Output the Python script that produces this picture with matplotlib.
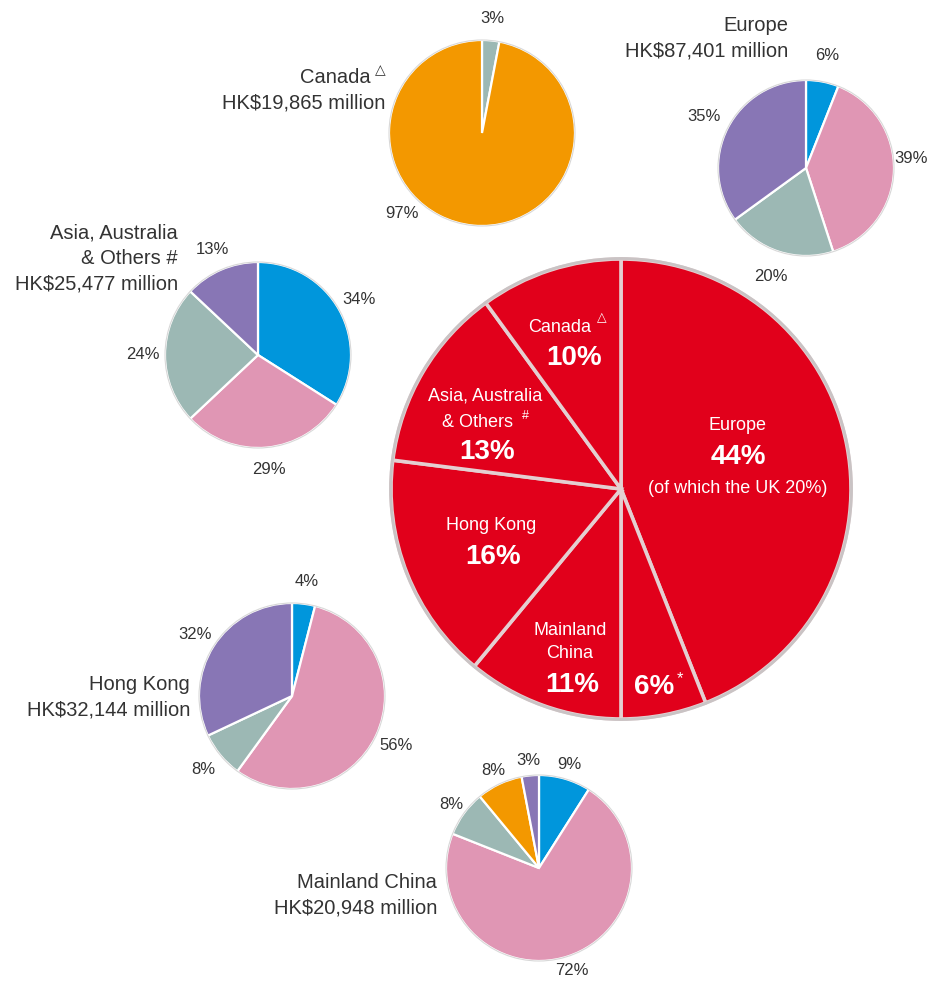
import matplotlib.pyplot as plt
from matplotlib.patches import Circle
from matplotlib import font_manager

# 1. CONFIGURATION -----------------------------------------------------
W, H = 933, 982
OUT_FILE = "out.png"

installed = {f.name for f in font_manager.fontManager.ttflist}
FONT = "Liberation Sans Narrow" if "Liberation Sans Narrow" in installed else "Liberation Sans"
plt.rcParams["font.family"] = [FONT, "DejaVu Sans"]

RED    = "#e1001b"
BLUE   = "#0096dc"
PINK   = "#e096b4"
GREY   = "#9cb8b4"
PURPLE = "#8876b5"
ORANGE = "#f39800"
TXT    = "#333333"

# 2. DATA --------------------------------------------------------------
main_labels = ["Europe", "", "Mainland\nChina", "Hong Kong", "Asia, Australia\n& Others", "Canada"]
main_values = [44, 6, 11, 16, 13, 10]
main_notes  = ["(of which the UK 20%)", "", "", "", "", ""]

canada_values = [3, 97]
canada_colors = [GREY, ORANGE]
canada_title  = ["Canada", "HK$19,865 million"]

europe_values = [6, 39, 20, 35]
europe_colors = [BLUE, PINK, GREY, PURPLE]
europe_title  = ["Europe", "HK$87,401 million"]

asia_values = [34, 29, 24, 13]
asia_colors = [BLUE, PINK, GREY, PURPLE]
asia_title  = ["Asia, Australia", "& Others #", "HK$25,477 million"]

hk_values = [4, 56, 8, 32]
hk_colors = [BLUE, PINK, GREY, PURPLE]
hk_title  = ["Hong Kong", "HK$32,144 million"]

china_values = [9, 72, 8, 8, 3]
china_colors = [BLUE, PINK, GREY, ORANGE, PURPLE]
china_title  = ["Mainland China", "HK$20,948 million"]

# 3. PLOT --------------------------------------------------------------
fig = plt.figure(figsize=(W / 100, H / 100), dpi=100)
ax = fig.add_axes([0, 0, 1, 1])


def small_pie(values, colors, cx, cy, r=93, pctdist=1.24):
    wedges, _, autotexts = ax.pie(
        values, colors=colors, startangle=90, counterclock=False,
        center=(cx, H - cy), radius=r,
        autopct=lambda p: f"{p:.0f}%", pctdistance=pctdist,
        wedgeprops=dict(edgecolor="white", linewidth=1.6),
        textprops=dict(color=TXT, fontsize=12),
    )
    ax.add_patch(Circle((cx, H - cy), r, fill=False, edgecolor="#d8d8d8", lw=0.8))
    return autotexts


def title(lines, x_right, y_top, step=25.5):
    out = []
    for i, line in enumerate(lines):
        out.append(ax.text(x_right, H - (y_top + i * step), line, ha="right", va="center",
                           fontsize=14.5, color=TXT))
    return out


# main pie
main_c = (621, 489)
ax.pie(main_values, colors=[RED] * len(main_values), startangle=90, counterclock=False,
       center=(main_c[0], H - main_c[1]), radius=230,
       wedgeprops=dict(edgecolor="#e4cfd1", linewidth=2.6))
ax.add_patch(Circle((main_c[0], H - main_c[1]), 230.5, fill=False, edgecolor="#c9c3c4", lw=2))

# small pies
small_pie(canada_values, canada_colors, 482, 133)[1].set_position((402, H - 213))
small_pie(europe_values, europe_colors, 806, 168, r=88, pctdist=1.3)[1].set_position((911, H - 158))
small_pie(asia_values, asia_colors, 258, 355)
small_pie(hk_values, hk_colors, 292, 696)
small_pie(china_values, china_colors, 539, 868, pctdist=1.16)

# titles beside small pies
title(canada_title, 385, 77)[0].set_position((371, H - 77))
ax.text(386, H - 70, "△", ha="right", va="center", fontsize=10, color=TXT, family="DejaVu Sans")
title(europe_title, 788, 25)
title(asia_title, 178, 233)
title(hk_title, 190, 684)
title(china_title, 437, 883)

# labels inside the main pie
W_KW = dict(color="white", ha="center", va="center")
ax.text(560, H - 327, main_labels[5], fontsize=13, **W_KW)
ax.text(602, H - 318, "△", fontsize=9, family="DejaVu Sans", **W_KW)
ax.text(574, H - 358, f"{main_values[5]}%", fontsize=20, fontweight="bold", **W_KW)

asia_l1, asia_l2 = main_labels[4].split("\n")
ax.text(485, H - 396, asia_l1, fontsize=13, **W_KW)
ax.text(478, H - 422, asia_l2, fontsize=13, **W_KW)
ax.text(525, H - 416, "#", fontsize=9, **W_KW)
ax.text(487, H - 452, f"{main_values[4]}%", fontsize=20, fontweight="bold", **W_KW)

ax.text(491, H - 526, main_labels[3], fontsize=13, **W_KW)
ax.text(493, H - 557, f"{main_values[3]}%", fontsize=20, fontweight="bold", **W_KW)

ax.text(570, H - 642, main_labels[2], fontsize=13, linespacing=1.5, **W_KW)
ax.text(572, H - 685, f"{main_values[2]}%", fontsize=20, fontweight="bold", **W_KW)

ax.text(654, H - 687, f"{main_values[1]}%", fontsize=20, fontweight="bold", **W_KW)
ax.text(680, H - 679, "*", fontsize=12, **W_KW)

ax.text(737, H - 425, main_labels[0], fontsize=13, **W_KW)
ax.text(738, H - 457, f"{main_values[0]}%", fontsize=20, fontweight="bold", **W_KW)
ax.text(738, H - 488, main_notes[0], fontsize=13, **W_KW)

ax.set_xlim(0, W)
ax.set_ylim(0, H)
ax.set_aspect("equal")
ax.set_axis_off()

fig.savefig(OUT_FILE, dpi=100, facecolor="white")
print("font:", FONT)
